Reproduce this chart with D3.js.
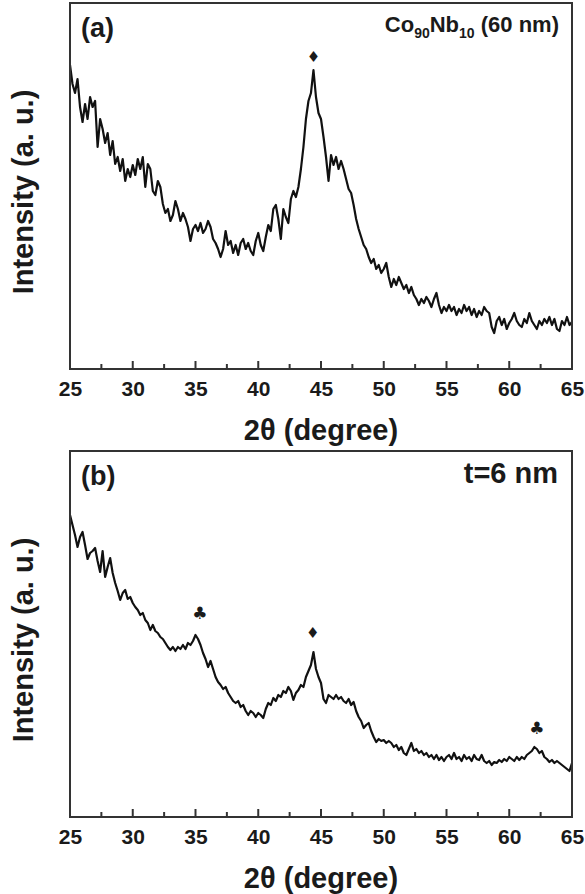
<!DOCTYPE html>
<html>
<head>
<meta charset="utf-8">
<script src="https://cdn.jsdelivr.net/npm/d3@7"></script>
<style>
  body { margin: 0; background: #fff; }
  text { font-family: "Liberation Sans", Arial, sans-serif; font-weight: bold; fill: #1a1a1a; }
</style>
</head>
<body>
<div id="chart"></div>
<script>
// 2-theta sampling grid (degrees), 0.2 deg step
var twoTheta = d3.range(0, 201).map(function(i) { return +(25 + i * 0.2).toFixed(1); });

// (a) Co90Nb10 (60 nm) intensity, a.u.
var intensityA = [
  304, 285, 276, 290, 262, 247, 265, 250, 272, 262,
  268, 222, 250, 240, 226, 236, 214, 228, 205, 212,
  198, 210, 188, 200, 192, 204, 194, 210, 200, 212,
  182, 205, 200, 178, 174, 188, 182, 165, 156, 160,
  148, 154, 168, 160, 148, 156, 150, 142, 128, 140,
  144, 138, 146, 136, 140, 148, 142, 130, 126, 120,
  112, 120, 138, 124, 128, 116, 124, 114, 126, 130,
  120, 126, 118, 114, 128, 136, 124, 118, 132, 144,
  138, 160, 164, 150, 130, 160, 152, 146, 170, 178,
  172, 182, 200, 222, 250, 268, 276, 299, 272, 256,
  250, 232, 212, 188, 214, 204, 212, 200, 208, 200,
  190, 180, 176, 164, 150, 140, 132, 124, 120, 112,
  106, 110, 100, 104, 96, 100, 106, 92, 82, 90,
  84, 92, 86, 80, 84, 76, 82, 74, 70, 64,
  70, 66, 72, 68, 62, 70, 76, 64, 56, 62,
  58, 64, 58, 62, 54, 60, 56, 64, 58, 62,
  54, 60, 52, 58, 54, 62, 58, 56, 42, 36,
  48, 52, 44, 50, 40, 46, 50, 56, 48, 44,
  42, 50, 46, 56, 48, 44, 40, 48, 44, 50,
  46, 52, 44, 50, 40, 38, 48, 44, 52, 44,
  47
];

// (b) t = 6 nm intensity, a.u.
var intensityB = [
  302, 292, 282, 270, 280, 285, 272, 258, 264, 266,
  269, 256, 245, 266, 240, 250, 259, 244, 234, 226,
  217, 224, 227, 218, 220, 214, 210, 207, 202, 204,
  197, 194, 187, 192, 186, 184, 180, 178, 174, 170,
  167, 170, 166, 170, 168, 172, 168, 174, 172, 176,
  182, 178, 172, 164, 158, 150, 156, 148, 140, 135,
  132, 128, 130, 124, 120, 116, 114, 116, 110, 112,
  106, 102, 106, 104, 100, 104, 102, 99, 108, 114,
  112, 119, 116, 122, 120, 126, 124, 130, 126, 117,
  124, 127, 132, 130, 140, 146, 152, 165, 148, 140,
  134, 118, 114, 122, 120, 118, 122, 118, 120, 116,
  114, 118, 112, 115, 106, 100, 96, 89, 92, 94,
  86, 80, 75, 78, 76, 77, 74, 76, 74, 70,
  72, 67, 70, 64, 62, 68, 74, 66, 68, 64,
  66, 62, 64, 60, 62, 58, 62, 57, 60, 56,
  60, 62, 58, 64, 58, 60, 56, 62, 58, 60,
  56, 62, 58, 57, 62, 56, 54, 56, 52, 55,
  54, 57, 55, 58, 56, 60, 58, 56, 60, 57,
  60, 58, 62, 64, 66, 70, 68, 64, 66, 60,
  58, 55, 57, 54, 56, 54, 52, 50, 48, 46,
  54
];

// peak markers: [2theta, intensity, symbol]
var marksA = [[44.4, 312, '\u2666']];
var marksB = [[35.35, 204, '\u2663'], [44.35, 184, '\u2666'], [62.2, 89, '\u2663']];

var majorTicks = [25, 30, 35, 40, 45, 50, 55, 60, 65];
var minorTicks = [27.5, 32.5, 37.5, 42.5, 47.5, 52.5, 57.5, 62.5];

var W = 585, H = 894;

var svg = d3.select('#chart').append('svg')
  .attr('width', W)
  .attr('height', H);

var x = d3.scaleLinear().domain([25, 65]).range([70, 572]);

drawPanel(intensityA, marksA, 3, 369, '(a)', 'a');
drawPanel(intensityB, marksB, 451, 817, '(b)', 'b');

function drawPanel(vals, marks, top, bottom, tag, which) {
  var y = d3.scaleLinear().domain([0, 366]).range([bottom, top]);
  var g = svg.append('g');

  var line = d3.line()
    .x(function(d, i) { return x(twoTheta[i]); })
    .y(function(d) { return y(d); });

  g.append('path')
    .datum(vals)
    .attr('d', line)
    .attr('fill', 'none')
    .attr('stroke', '#111')
    .attr('stroke-width', 2.2)
    .attr('stroke-linejoin', 'round');

  g.append('rect')
    .attr('x', x(25)).attr('y', top)
    .attr('width', x(65) - x(25)).attr('height', bottom - top)
    .attr('fill', 'none').attr('stroke', '#333').attr('stroke-width', 2);

  // inward ticks
  g.selectAll('line.minor')
    .data(minorTicks)
    .enter().append('line')
    .attr('class', 'minor')
    .attr('x1', function(d) { return x(d); }).attr('x2', function(d) { return x(d); })
    .attr('y1', bottom).attr('y2', bottom - 5)
    .attr('stroke', '#333').attr('stroke-width', 2);

  g.selectAll('line.major')
    .data(majorTicks.slice(1, -1))
    .enter().append('line')
    .attr('class', 'major')
    .attr('x1', function(d) { return x(d); }).attr('x2', function(d) { return x(d); })
    .attr('y1', bottom).attr('y2', bottom - 8)
    .attr('stroke', '#333').attr('stroke-width', 2);

  var ax = g.append('g')
    .attr('transform', 'translate(0,' + bottom + ')')
    .call(d3.axisBottom(x).tickValues(majorTicks).tickSize(0).tickPadding(12).tickFormat(d3.format('d')));
  ax.select('.domain').remove();
  ax.selectAll('.tick line').remove();
  ax.selectAll('text')
    .attr('fill', '#1a1a1a')
    .style('font-size', '21px')
    .style('font-family', '"Liberation Sans", Arial, sans-serif')
    .style('font-weight', 'bold');

  g.selectAll('.mark')
    .data(marks)
    .enter().append('text')
    .attr('class', 'mark')
    .attr('x', function(d) { return x(d[0]); })
    .attr('y', function(d) { return y(d[1]); })
    .attr('text-anchor', 'middle')
    .attr('dominant-baseline', 'central')
    .style('font-family', '"DejaVu Sans", sans-serif')
    .style('font-size', function(d) { return d[2] === '\u2666' ? '15px' : '17px'; })
    .text(function(d) { return d[2]; });

  g.append('text')
    .attr('x', 81).attr('y', top + 34)
    .style('font-size', '27px')
    .text(tag);

  var cy = (top + bottom) / 2 + 6;
  g.append('text')
    .attr('transform', 'translate(33,' + cy + ') rotate(-90)')
    .attr('text-anchor', 'middle')
    .style('font-size', '29px')
    .text('Intensity (a. u.)');

  g.append('text')
    .attr('x', (x(25) + x(65)) / 2)
    .attr('y', bottom + 71)
    .attr('text-anchor', 'middle')
    .style('font-size', '29px')
    .text('2\u03b8 (degree)');

  if (which === 'a') {
    var t = g.append('text')
      .attr('x', 559).attr('y', top + 29)
      .attr('text-anchor', 'end')
      .style('font-size', '22px');
    t.append('tspan').text('Co');
    t.append('tspan').attr('dy', 6).style('font-size', '14px').text('90');
    t.append('tspan').attr('dy', -6).text('Nb');
    t.append('tspan').attr('dy', 6).style('font-size', '14px').text('10');
    t.append('tspan').attr('dy', -6).text(' (60 nm)');
  } else {
    g.append('text')
      .attr('x', 558).attr('y', top + 32)
      .attr('text-anchor', 'end')
      .style('font-size', '29px')
      .text('t=6 nm');
  }
}
</script>
</body>
</html>
